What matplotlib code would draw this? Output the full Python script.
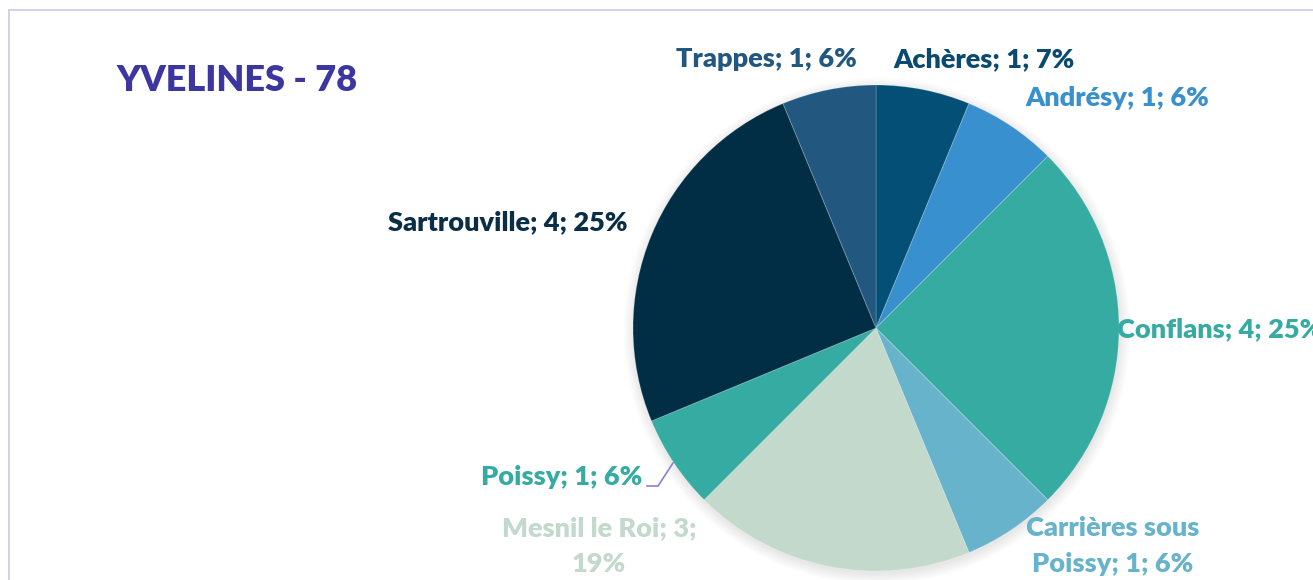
import matplotlib
matplotlib.use("Agg")
import matplotlib.pyplot as plt
from matplotlib.lines import Line2D
from matplotlib.patches import Circle

plt.rcParams['font.family'] = ['Lato', 'DejaVu Sans']

# ---- data ----
communes = ["Achères", "Andrésy", "Conflans", "Carrières sous Poissy",
            "Mesnil le Roi", "Poissy", "Sartrouville", "Trappes"]
values = [1, 1, 4, 1, 3, 1, 4, 1]
percent_labels = ["7%", "6%", "25%", "6%", "19%", "6%", "25%", "6%"]
title = "YVELINES - 78"

colors = ["#034F75", "#3990CF", "#36ABA2", "#68B3CC",
          "#C2D9CC", "#36ABA2", "#012E44", "#22587F"]
label_colors = ["#0B4A70", "#3990CF", "#36ABA2", "#68B3CC",
                "#C2D9CC", "#36ABA2", "#0A2E45", "#22587F"]

# label text (line breaks as in the reference)
label_text = [f"{c}; {v}; {p}" for c, v, p in zip(communes, values, percent_labels)]
label_text[3] = "Carrières sous\nPoissy; 1; 6%"
label_text[4] = "Mesnil le Roi; 3;\n19%"

W, H = 1313, 580
fig = plt.figure(figsize=(W / 100, H / 100), dpi=100)
fig.patch.set_facecolor("white")

cx, cy, R = 876, 328, 243
ax = fig.add_axes([(cx - R) / W, (H - cy - R) / H, 2 * R / W, 2 * R / H])

wedges, texts = ax.pie(values, labels=label_text, colors=colors, startangle=90,
                       counterclock=False, radius=1.0,
                       wedgeprops=dict(edgecolor=(1, 1, 1, 0.18), linewidth=0.8),
                       textprops=dict(fontsize=19.5, fontweight="heavy"))
ax.set_xlim(-1, 1)
ax.set_ylim(-1, 1)
ax.set_aspect("equal")
ax.axis("off")

# soft shadow
for i in range(8):
    ax.add_patch(Circle((0.004, -0.012), 1.0 + 0.006 * i, color="black",
                        alpha=0.012, lw=0, zorder=0, clip_on=False))
for w in wedges:
    w.set_zorder(2)

def to_data(px, py):
    return ((px - cx) / R, (cy - py) / R)

# label placements (pixel coords) and alignment
placements = [
    (984, 59, "center"),
    (1117, 98, "center"),
    (1117, 329, "left"),
    (1113, 546, "center"),
    (599, 546, "center"),
    (642, 477, "right"),
    (628, 222, "right"),
    (766, 59, "center"),
]
for t, col, (px, py, ha) in zip(texts, label_colors, placements):
    t.set_position(to_data(px, py))
    t.set_ha(ha)
    t.set_va("center")
    t.set_color(col)
    t.set_multialignment("center")
    t.set_clip_on(False)
    t.set_linespacing(1.6)

# leader line for Poissy
p0, p1, p2 = to_data(647, 486), to_data(658, 486), to_data(673, 463)
ax.add_line(Line2D([p0[0], p1[0], p2[0]], [p0[1], p1[1], p2[1]],
                   color="#8C7FD6", lw=1.2, clip_on=False, zorder=3))

# title
fig.text(117 / W, 1 - 80 / H, title, color="#3C37A0", fontsize=26,
         fontweight="heavy", ha="left", va="center")

# chart border (top and left visible)
fig.add_artist(Line2D([8.5 / W, 8.5 / W], [0, 1 - 9.5 / H], transform=fig.transFigure,
                      color="#CFCDEB", lw=1.3))
fig.add_artist(Line2D([8.5 / W, 1], [1 - 9.5 / H, 1 - 9.5 / H], transform=fig.transFigure,
                      color="#CFCDEB", lw=1.3))

fig.savefig("out.png", dpi=100, facecolor="white")
